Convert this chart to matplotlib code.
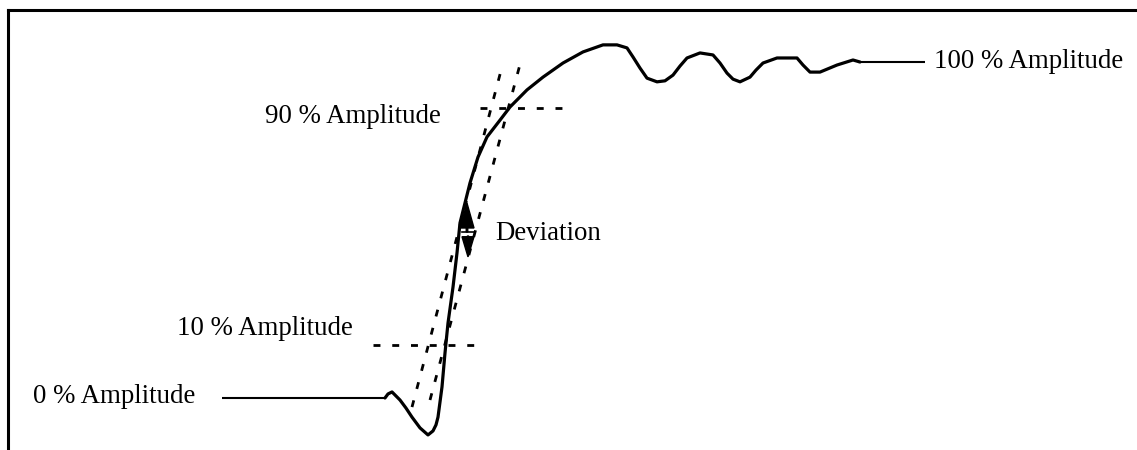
import matplotlib
matplotlib.use("Agg")
import matplotlib.pyplot as plt

plt.rcParams['lines.scale_dashes'] = False
plt.rcParams['font.family'] = ['Liberation Serif', 'DejaVu Serif']

# Step response waveform (time in ns, amplitude in %)
time_ns = [37.7, 38.0, 38.4, 39.2, 39.8, 40.4, 41.2, 42.0, 42.5, 42.8, 43.0, 43.4,
           43.7, 44.0, 44.5, 44.9, 45.2, 46.2, 47.0, 47.9, 49.2, 50.2, 51.9, 53.5,
           55.5, 57.5, 59.5, 60.9, 61.9, 62.5, 63.2, 63.9, 64.9, 65.7, 66.5, 67.2,
           67.9, 69.2, 70.5, 71.2, 71.9, 72.5, 73.2, 74.2, 74.8, 75.5, 76.9, 78.9,
           79.5, 80.2, 81.2, 82.9, 84.5, 85.2]
amplitude = [0.0, 1.2, 1.8, -0.6, -3.0, -5.7, -8.9, -11.0, -9.8, -8.0, -5.7, 3.3,
             13.4, 22.3, 33.0, 43.2, 52.1, 64.0, 71.7, 77.7, 82.7, 86.6, 91.7, 95.5,
             99.7, 103.0, 105.1, 105.1, 104.2, 101.5, 98.2, 95.2, 94.1, 94.4, 96.1, 98.8,
             101.2, 102.7, 102.1, 99.7, 96.7, 94.9, 94.1, 95.5, 97.6, 99.7, 101.2, 101.2,
             99.1, 97.0, 97.0, 99.1, 100.6, 100.0]

# Flat lead-in and settled tail
lead_time = [21.4, 37.7]
lead_amp = [0.0, 0.0]
tail_time = [85.0, 91.7]
tail_amp = [100.0, 100.0]

# Rise-time construction lines (dashed)
rise_left_time = [40.4, 49.5]
rise_left_amp = [-2.7, 99.7]
rise_right_time = [42.2, 51.4]
rise_right_amp = [-0.6, 101.5]
level90_time = [47.2, 56.5]
level90_amp = [86.3, 86.3]
level10_time = [36.5, 47.0]
level10_amp = [15.8, 15.8]

# Deviation arrows
dev_time = 45.9
dev_mid = 49.4
dev_top = 58.0
dev_low_start = 48.2
dev_low_end = 42.0

labels = ["0 % Amplitude", "10 % Amplitude", "90 % Amplitude", "100 % Amplitude", "Deviation"]

fig = plt.figure(figsize=(11.37, 4.5), dpi=100)
ax = fig.add_axes([8 / 1137, 0.0, 1 - 8 / 1137, 440 / 450])
ax.set_xlim(0, 112.9)
ax.set_ylim(-15.48, 115.48)
ax.set_xticks([])
ax.set_yticks([])
for s in ['right', 'bottom']:
    ax.spines[s].set_visible(False)
for s in ['left', 'top']:
    ax.spines[s].set_linewidth(2.2)
    ax.spines[s].set_color('black')

ax.plot(lead_time, lead_amp, color='black', lw=1.5, solid_capstyle='butt')
ax.plot(tail_time, tail_amp, color='black', lw=1.5, solid_capstyle='butt')
ax.plot(time_ns, amplitude, color='black', lw=2.3, solid_joinstyle='round',
        solid_capstyle='round')

dash = (0, (5.0, 8.5))
for tx, ay in [(rise_left_time, rise_left_amp), (rise_right_time, rise_right_amp),
               (level90_time, level90_amp), (level10_time, level10_amp)]:
    ax.plot(tx, ay, color='black', lw=2.0, linestyle=dash, dash_capstyle='butt')

# Deviation arrows
ax.arrow(dev_time, dev_mid, 0, dev_top - dev_mid, width=0.15, head_width=1.4,
         head_length=7.4, length_includes_head=True, color='black')
ax.arrow(dev_time + 0.1, dev_low_start, 0, dev_low_end - dev_low_start, width=0.15,
         head_width=1.2, head_length=6.0, length_includes_head=True, color='black')
ax.plot([dev_time - 0.5, dev_time + 0.7], [dev_mid, dev_mid], color='black', lw=1.2)

fs = 19.4
ax.text(2.5, -1.5, labels[0], fontsize=fs, ha='left', va='baseline')
ax.text(16.9, 18.75, labels[1], fontsize=fs, ha='left', va='baseline')
ax.text(25.7, 81.85, labels[2], fontsize=fs, ha='left', va='baseline')
ax.text(111.5, 98.2, labels[3], fontsize=fs, ha='right', va='baseline')
ax.text(48.7, 47.0, labels[4], fontsize=fs, ha='left', va='baseline')

fig.savefig('out.png', dpi=100, facecolor='white')
